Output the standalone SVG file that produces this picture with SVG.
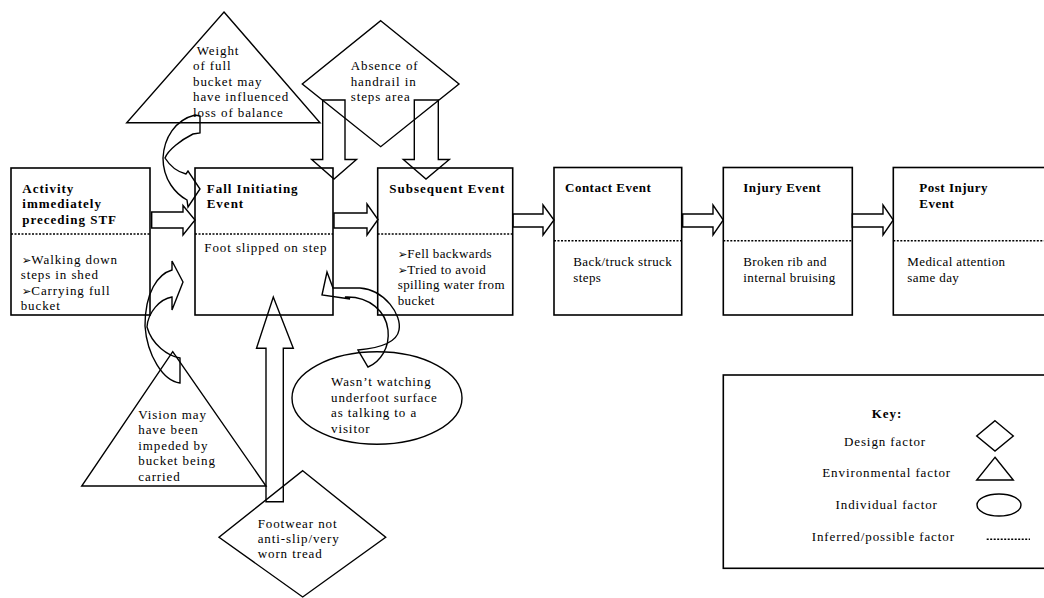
<svg xmlns="http://www.w3.org/2000/svg" width="1044" height="598" viewBox="0 0 1044 598">
<style>
.s{fill:none;stroke:#000;stroke-width:1.4}
.b{fill:none;stroke:#000;stroke-width:1.6}
.d{fill:none;stroke:#000;stroke-width:1.6;stroke-dasharray:2 1.5}
text{font-family:"Liberation Serif","DejaVu Serif",serif;font-size:13px;fill:#000}
.t{letter-spacing:0.9px}
.t2{letter-spacing:0.4px}
.h{font-weight:bold;letter-spacing:1px}
.h2{font-weight:bold;letter-spacing:0.5px}
.m{text-anchor:middle}
.u{font-family:"DejaVu Sans",sans-serif;font-size:11.5px;letter-spacing:0}
</style>
<rect width="1044" height="598" fill="#fff"/>
<g id="factor-weight">
<polygon class="s" points="224,12 320,122.7 126.7,122.7"/>
<text class="t"><tspan x="196.7" y="54.5">Weight</tspan><tspan x="193" y="70">of full</tspan><tspan x="193" y="85.5">bucket may</tspan><tspan x="193" y="101">have influenced</tspan><tspan x="193" y="116.5">loss of balance</tspan></text>
</g>
<g id="factor-handrail">
<polygon class="s" points="380.7,20.7 459,84 380.7,146.7 302.3,84"/>
<text class="t"><tspan x="350.7" y="70">Absence of</tspan><tspan x="350.7" y="85.5">handrail in</tspan><tspan x="350.7" y="101">steps area</tspan></text>
</g>
<g id="box-activity">
<rect class="b" x="11" y="168" width="139" height="147"/>
<line class="d" x1="11" y1="234" x2="150" y2="234"/>
<text class="h"><tspan x="22.3" y="192.5">Activity</tspan><tspan x="22.3" y="208">immediately</tspan><tspan x="22.3" y="223.5">preceding STF</tspan></text>
<text class="t"><tspan x="21.7" y="263.5"><tspan class="u">➢</tspan>Walking down</tspan><tspan x="20.7" y="279">steps in shed</tspan><tspan x="21.7" y="294.5"><tspan class="u">➢</tspan>Carrying full</tspan><tspan x="20.7" y="310">bucket</tspan></text>
</g>
<g id="box-fall">
<rect class="b" x="195" y="168" width="138" height="147"/>
<line class="d" x1="195" y1="234" x2="333" y2="234"/>
<text class="h"><tspan x="206.7" y="192.5">Fall Initiating</tspan><tspan x="206.7" y="208">Event</tspan></text>
<text class="t" x="204.3" y="251.5">Foot slipped on step</text>
</g>
<g id="box-subsequent">
<rect class="b" x="377.7" y="168" width="135" height="147"/>
<line class="d" x1="377.7" y1="234" x2="512.7" y2="234"/>
<text class="h" x="389.3" y="192.5">Subsequent Event</text>
<text class="t2"><tspan x="397.7" y="258"><tspan class="u">➢</tspan>Fell backwards</tspan><tspan x="397.7" y="273.5"><tspan class="u">➢</tspan>Tried to avoid</tspan><tspan x="397.7" y="289">spilling water from</tspan><tspan x="397.7" y="304.5">bucket</tspan></text>
</g>
<g id="box-contact">
<rect class="b" x="554" y="167.5" width="127.7" height="147.5"/>
<line class="d" x1="554" y1="240.7" x2="681.7" y2="240.7"/>
<text class="h2" x="565" y="192">Contact Event</text>
<text class="t2"><tspan x="573.3" y="266">Back/truck struck</tspan><tspan x="573.3" y="281.5">steps</tspan></text>
</g>
<g id="box-injury">
<rect class="b" x="723.3" y="167.5" width="129" height="147.5"/>
<line class="d" x1="723.3" y1="240.7" x2="852.3" y2="240.7"/>
<text class="h2" x="743.3" y="192">Injury Event</text>
<text class="t2"><tspan x="743.3" y="266">Broken rib and</tspan><tspan x="743.3" y="281.5">internal bruising</tspan></text>
</g>
<g id="box-post">
<rect class="b" x="893.3" y="167.5" width="160" height="147.5"/>
<line class="d" x1="893.3" y1="240.7" x2="1044" y2="240.7"/>
<text class="h2"><tspan x="919.3" y="192">Post Injury</tspan><tspan x="919.3" y="207.5">Event</tspan></text>
<text class="t2"><tspan x="907.3" y="266">Medical attention</tspan><tspan x="907.3" y="281.5">same day</tspan></text>
</g>
<g id="factor-vision">
<polygon class="s" points="172.7,351.7 266,486 81.7,486"/>
<text class="t"><tspan x="138.3" y="418.5">Vision may</tspan><tspan x="138.3" y="434">have been</tspan><tspan x="138.3" y="449.5">impeded by</tspan><tspan x="138.3" y="465">bucket being</tspan><tspan x="138.3" y="480.5">carried</tspan></text>
</g>
<g id="factor-footwear">
<polygon class="s" points="302.7,470.7 385.7,537.3 302.7,597 219,537.3"/>
<text class="t"><tspan x="257.7" y="528">Footwear not</tspan><tspan x="257.7" y="543">anti-slip/very</tspan><tspan x="257.7" y="558">worn tread</tspan></text>
</g>
<g id="factor-watching">
<ellipse class="s" cx="377" cy="398" rx="85" ry="46.3"/>
<text class="t"><tspan x="331" y="386">Wasn’t watching</tspan><tspan x="331" y="401.5">underfoot surface</tspan><tspan x="331" y="417">as talking to a</tspan><tspan x="331" y="432.5">visitor</tspan></text>
</g>
<g id="connectors">
<path class="s" d="M151.7,212 H183 V205.5 L195,220 L183,235 V228 H151.7 Z"/>
<path class="s" d="M334,213 H367 V204 L378,219.5 L367,235 V228 H334 Z"/>
<path class="s" d="M513,214 H543 V205 L554,220 L543,235 V227 H513 Z"/>
<path class="s" d="M682.7,214 H713 V205 L723.3,220 L713,235 V227 H682.7 Z"/>
<path class="s" d="M852.3,214 H883 V205 L893.3,220 L883,235 V227 H852.3 Z"/>
<path class="s" d="M322.7,100 V159.5 H311.7 L334,179 L356.5,159.5 H345 V100 Z"/>
<path class="s" d="M414.3,100 V159.5 H403.3 L426,179 L449.3,159.5 H438.3 V100 Z"/>
<path class="s" d="M266,501.7 V348.3 H256.5 L273.3,297 L293.3,348.3 H283.3 V501.7 Z"/>
<path class="s" d="M195,115 L200,116 L200,133 L193,134 C181,140 168,150 165,158 C170,166 178,172 186,174 L188,171 L200,189 L188,207 L187,200 C176,194 163,180 163,158 C164,138 175,120 195,115 Z"/>
<path class="s" d="M180,383 L180,358 C168,356 152,345 147,327 C148,312 160,299 172,297 L172,310 L183,282 L172,261 L172,270 C158,274 145,292 145,326 C147,355 163,381 180,383 Z"/>
<path class="s" d="M322,295 L327,272 L333,288 L360,288 C385,290 402,315 399,330 C397,342 380,348 358,350 L368,367 C380,362 390,348 388,330 C386,312 370,296 345,297 L350,299 Z"/>
</g>
<g id="key">
<rect class="b" x="723.3" y="375" width="330" height="193.3"/>
<text class="m" style="font-weight:bold;letter-spacing:1px" x="887" y="418">Key:</text>
<text class="t m" x="885" y="446">Design factor</text>
<polygon class="s" points="995,420.7 1013.3,436 995,451 976.7,436"/>
<text class="t m" x="886.7" y="476.5">Environmental factor</text>
<polygon class="s" points="995,457.3 1013.3,480 976.7,480"/>
<text class="t m" x="886.7" y="509">Individual factor</text>
<ellipse class="s" cx="999" cy="505" rx="22" ry="11"/>
<text class="t m" x="883.3" y="541">Inferred/possible factor</text>
<line class="d" x1="986.7" y1="539.3" x2="1030" y2="539.3"/>
</g>
</svg>
